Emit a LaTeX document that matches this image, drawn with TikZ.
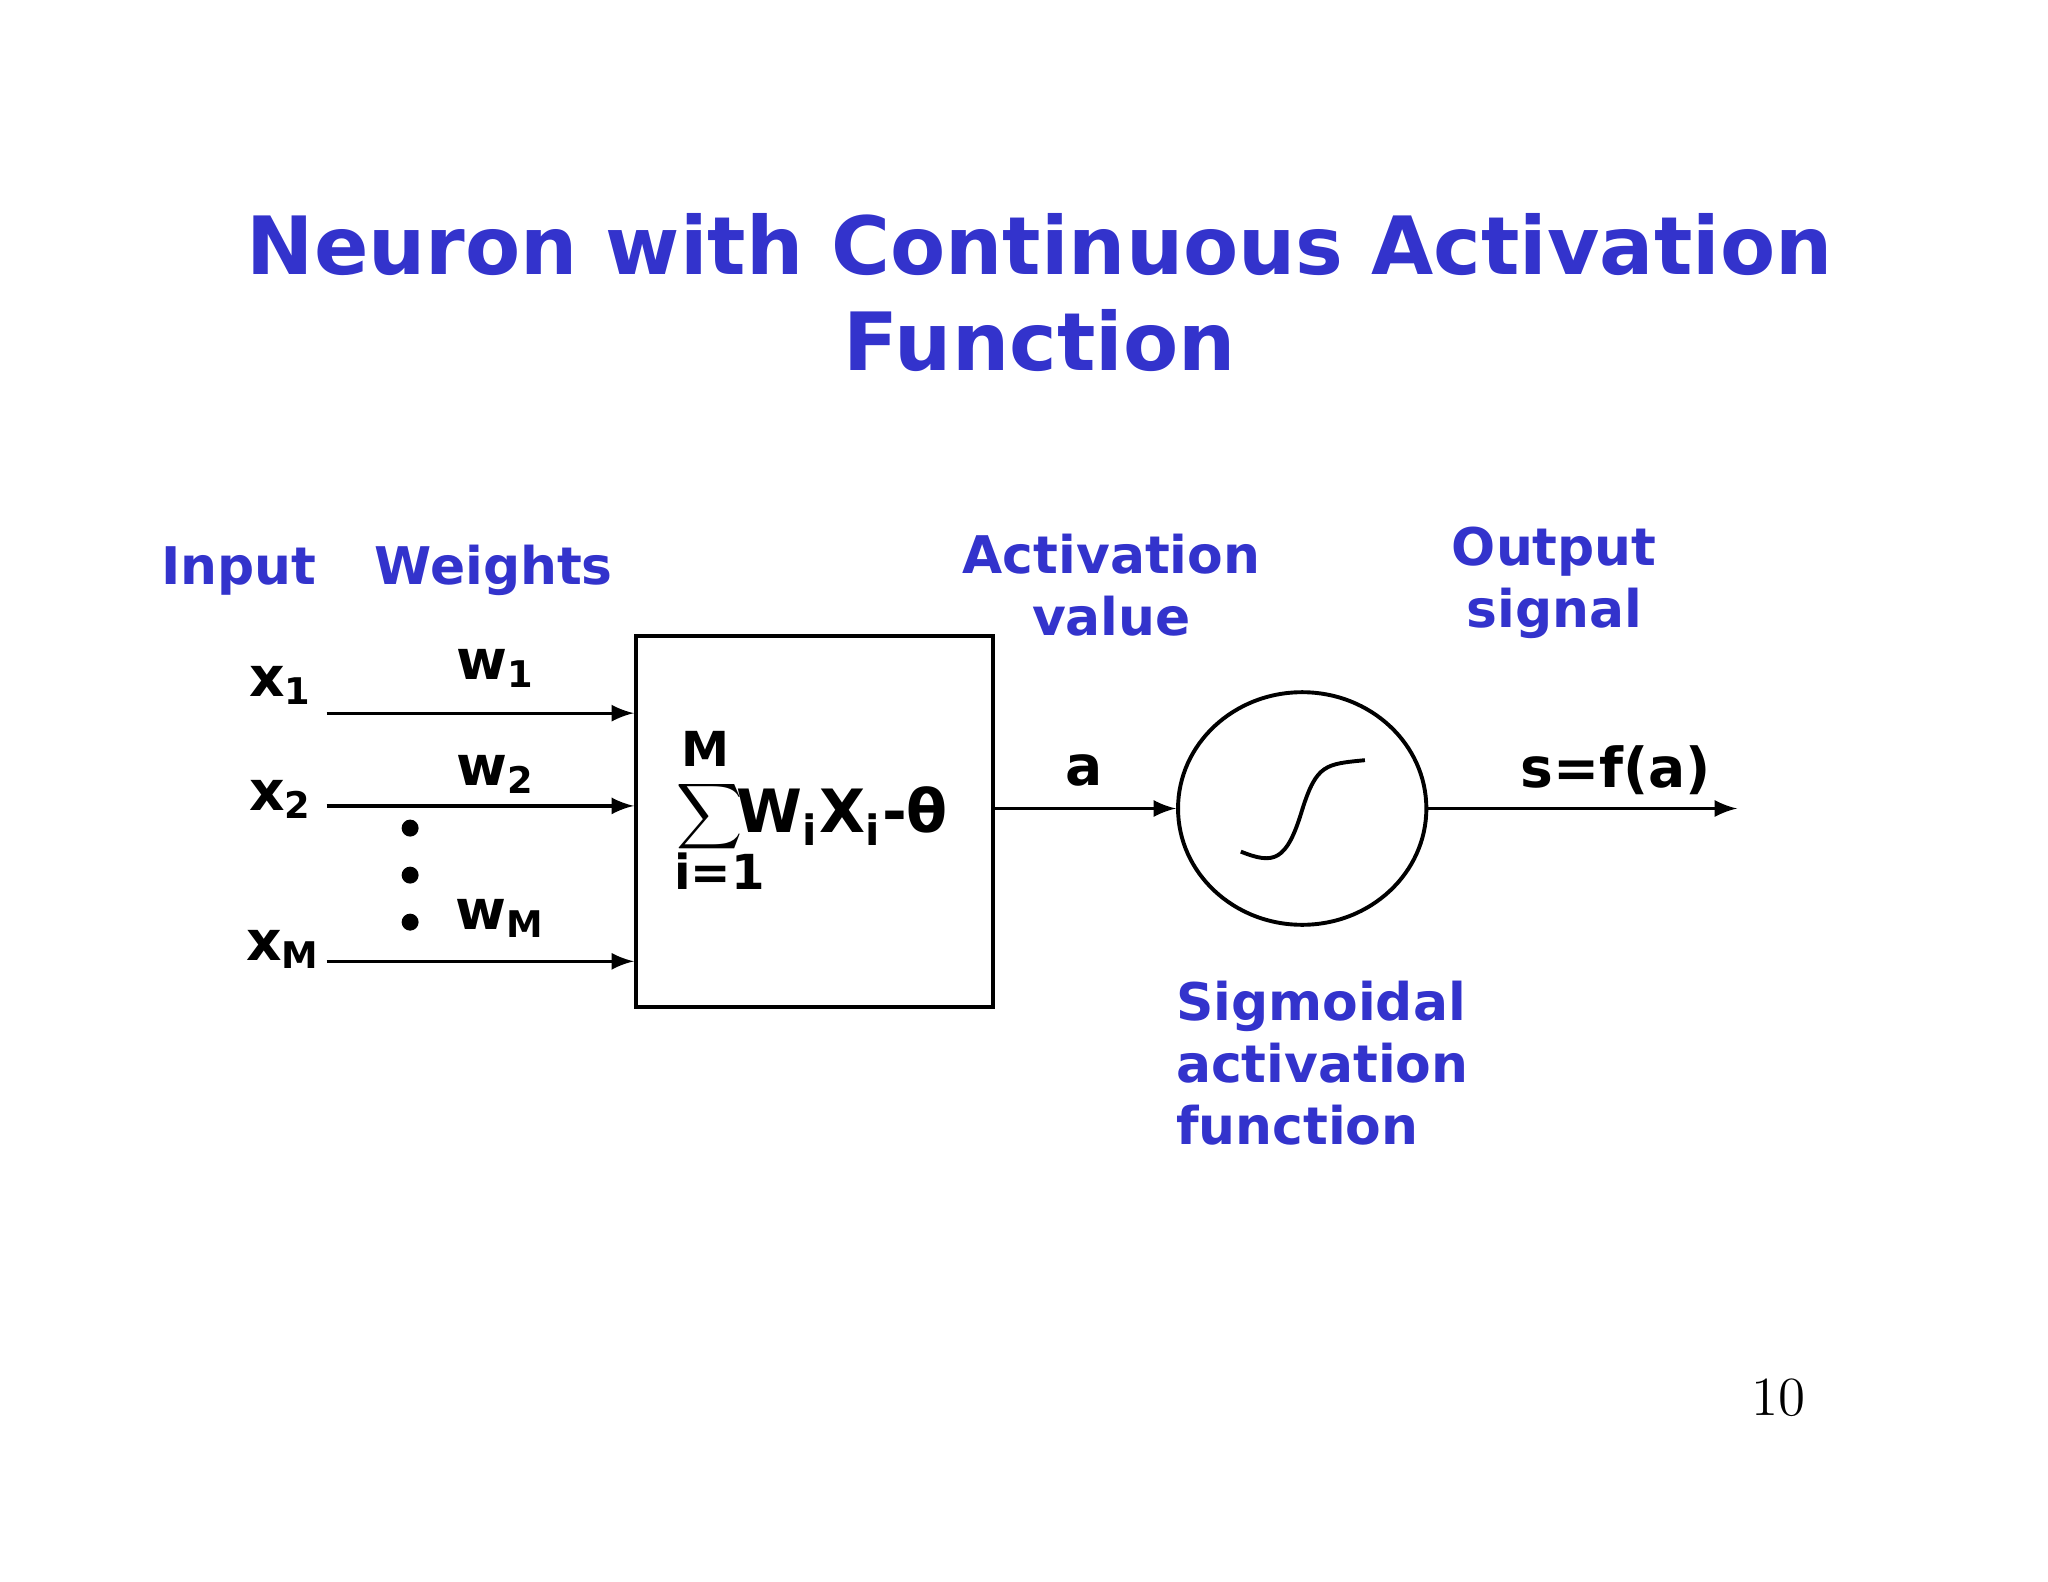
\documentclass[tikz,border=0pt]{standalone}
\usepackage{fontspec}
\setmainfont{DejaVu Sans}
\usetikzlibrary{positioning,shapes.geometric}
\definecolor{slideblue}{RGB}{51,51,204}
\tikzset{
  title/.style={font=\fontsize{17.5}{21}\selectfont\bfseries, text=slideblue, align=center},
  label/.style={font=\fontsize{11.3}{13.5}\selectfont\bfseries, text=slideblue, align=center},
  sym/.style={font=\fontsize{12}{14}\selectfont\bfseries},
  wire/.style={line width=0.7pt, -latex},
}
\begin{document}
\begin{tikzpicture}[x=0.01cm, y=-0.01cm]
\useasboundingbox (0,0) rectangle (1568,1211);
% title
\node[title] (title) at (796,224) {Neuron with Continuous Activation\\Function};
% column headings
\node[label] (input) at (183,437) {Input};
\node[label] (weights) at (378,437) {Weights};
\node[label] (actval) at (851,448) {Activation\\value};
\node[label] (outsig) at (1190,446) {Output\\signal};
\node[label, align=left, anchor=west] (sigm) at (888,814) {Sigmoidal\\activation\\function};
% summing box
\node[draw, line width=0.85pt, minimum width=2.73cm, minimum height=2.84cm] (box) at (623.5,629) {};
\node[sym] (sum) at (543,625) {\fontsize{15}{15}\selectfont$\displaystyle\sum$};
\node[sym, font=\fontsize{10.5}{12}\selectfont\bfseries] (sumtop) at (540,573) {M};
\node[sym, font=\fontsize{10.5}{12}\selectfont\bfseries] (sumbot) at (551,667) {i=1};
\node[sym, font=\fontsize{13}{16}\selectfont\bfseries] (wx) at (645,625) {W\textsubscript{i}X\textsubscript{i}-θ};
% inputs
\node[sym] (x1) at (215,525) {x\textsubscript{1}};
\node[sym] (x2) at (215,612) {x\textsubscript{2}};
\node[sym] (xM) at (217,727) {x\textsubscript{M}};
\node[sym] (w1) at (380,512) {w\textsubscript{1}};
\node[sym] (w2) at (380,593) {w\textsubscript{2}};
\node[sym] (wM) at (383,703) {w\textsubscript{M}};
\coordinate (in1) at (250,546);
\coordinate (in2) at (250,617);
\coordinate (inM) at (250,736);
\foreach \i in {1,2,M}
  \draw[wire] (in\i) -- (in\i -| box.west);
\foreach \y in {634,670,706}
  \fill (314,\y) circle (6.5);
% sigmoid unit
\node[draw, ellipse, line width=0.85pt, minimum width=1.9cm, minimum height=1.78cm] (unit) at (997,619) {};
\draw[line width=0.85pt] (950,652) .. controls (975,662) and (985,660) .. (997,620)
  .. controls (1008,585) and (1015,585) .. (1045,582);
\node[sym] (a) at (830,590) {a};
\draw[wire] (box.east |- unit.west) -- (unit.west);
\coordinate (out) at (1330,619);
\draw[wire] (unit.east) -- (out);
\node[sym] (s) at (1237,590) {s=f(a)};
% page number
\node[font=\fontfamily{lmr}\fontsize{12}{14}\selectfont] (page) at (1362,1070) {10};
\end{tikzpicture}
\end{document}
